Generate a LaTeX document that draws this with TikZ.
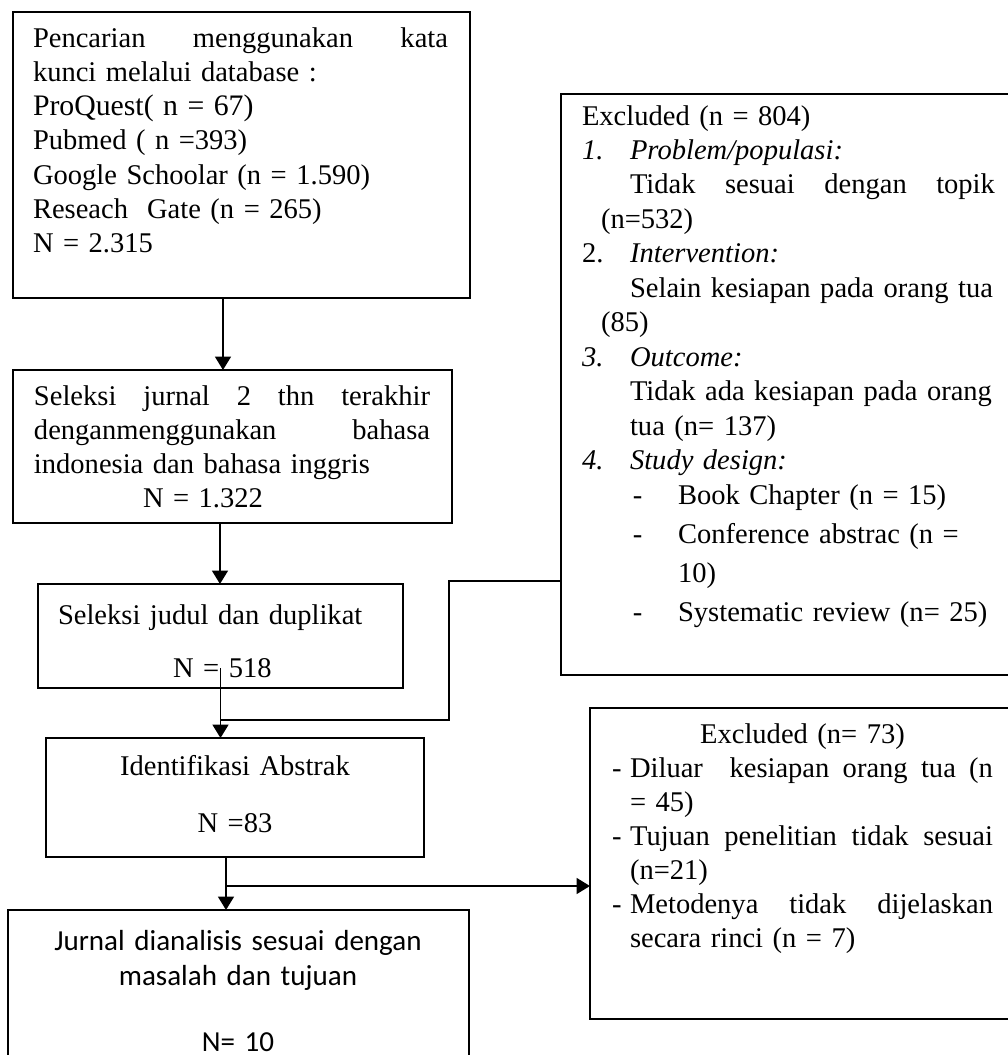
\documentclass[tikz,border=0pt]{standalone}
\usepackage{fontspec}
\setmainfont{Liberation Serif}
\newfontfamily\calibrifont{Carlito}
\usepackage{tikz}
\usetikzlibrary{arrows.meta,calc}
\tikzset{
    flow box/.style={
        rectangle,
        draw=black,
        line width=0.8pt,
        fill=none,
        inner sep=0pt,
        outer sep=0pt,
        anchor=north west,
    },
    flow text/.style={
        inner sep=0pt,
        outer sep=0pt,
        align=left,
        anchor=base west,
        font={\fontsize{11.7}{14}\selectfont},
    },
    flow line/.style={line width=0.8pt},
    flow arrow/.style={line width=0.8pt, -{Triangle[length=5.5pt,width=6.5pt]}},
}

\begin{document}
\begin{tikzpicture}[x=0.41pt,y=-0.41pt]
    % page frame (1 unit = 1 pixel of the scan)
    \path[use as bounding box] (0,0) rectangle (1008,1055);
    \clip (0,0) rectangle (1008,1055);

    % boxes on the left
    \node[flow box, minimum width=187.37pt, minimum height=117.26pt] (search) at (13,12) {};
    \node[flow box, minimum width=179.99pt, minimum height=62.73pt] (lang) at (13,370) {};
    \node[flow box, minimum width=149.65pt, minimum height=42.64pt] (title) at (38,584) {};
    \node[flow box, minimum width=154.98pt, minimum height=48.79pt] (abstract) at (46,738) {};
    \node[flow box, minimum width=189.01pt, minimum height=69.70pt] (final) at (8,910) {};

    % boxes on the right
    \node[flow box, minimum width=186.14pt, minimum height=238.21pt] (excl1) at (561,94) {};
    \node[flow box, minimum width=174.25pt, minimum height=127.51pt] (excl2) at (590,708) {};

    % texts
    \node[flow text, text width=195pt, font={\fontsize{11.7}{14.06}\selectfont}] (search-txt) at (33,47) {%
        \makebox[170.15pt][l]{Pencarian\hfill menggunakan\hfill kata}\\
        kunci melalui database :\\
        {\fontsize{12.2}{14.06}\selectfont ProQuest( n = 67)}\\
        Pubmed ( n =393)\\
        Google Schoolar (n = 1.590)\\
        Reseach\ \ Gate (n = 265)\\
        N = 2.315};

    \node[flow text, text width=185pt] (lang-txt) at (34,405) {%
        \makebox[162.36pt][l]{Seleksi\hfill jurnal\hfill 2\hfill thn\hfill terakhir}\\
        \makebox[162.36pt][l]{denganmenggunakan\hfill bahasa}\\
        indonesia dan bahasa inggris\\
        \hspace*{44.7pt}N = 1.322};

    \node[flow text, text width=160pt] (title-txt) at (58,624) {%
        Seleksi judul dan duplikat\\[7.8pt]
        \hspace*{47.2pt}N = 518};

    \node[flow text, text width=123pt, align=center, anchor=base] (abstract-txt) at (235,775) {%
        Identifikasi Abstrak\\[9.4pt]
        N =83};

    \node[flow text, text width=172.2pt, align=center, anchor=base,
          font={\calibrifont\fontsize{11.9}{14.6}\selectfont}] (final-txt) at (238,950) {%
        Jurnal dianalisis sesuai dengan\\
        masalah dan tujuan\\[12.3pt]
        N= 10};

    \node[flow text, text width=200pt, font={\fontsize{11.7}{14.14}\selectfont}] (excl1-txt) at (582,125) {%
        Excluded (n = 804)\\
        \makebox[19.7pt][l]{\textit{1.}}\textit{Problem/populasi:}\\
        \hspace*{19.7pt}\makebox[149.6pt][l]{Tidak\hfill sesuai\hfill dengan\hfill topik}\\
        \hspace*{7.8pt}(n=532)\\
        \makebox[19.7pt][l]{2.}\textit{Intervention:}\\
        \hspace*{19.7pt}Selain kesiapan pada orang tua\\
        \hspace*{7.8pt}(85)\\
        \makebox[19.7pt][l]{\textit{3.}}\textit{Outcome:}\\
        \hspace*{19.7pt}Tidak ada kesiapan pada orang\\
        \hspace*{19.7pt}tua (n= 137)\\
        \makebox[19.7pt][l]{\textit{4.}}\textit{Study design:}\\
        \hspace*{20.9pt}\makebox[18.5pt][l]{-}Book Chapter (n = 15)\\[1.9pt]
        \hspace*{20.9pt}\makebox[18.5pt][l]{-}Conference abstrac (n =\\[1.9pt]
        \hspace*{39.4pt}10)\\[1.9pt]
        \hspace*{20.9pt}\makebox[18.5pt][l]{-}Systematic review (n= 25)};

    \node[flow text, text width=180pt] (excl2-txt) at (612,743) {%
        \makebox[156.21pt][c]{Excluded (n= 73)}\\
        \makebox[7.4pt][l]{-}\makebox[148.8pt][l]{Diluar\hfill\hfill kesiapan\hfill orang\hfill tua\hfill (n}\\
        \hspace*{7.4pt}= 45)\\
        \makebox[7.4pt][l]{-}\makebox[148.8pt][l]{Tujuan\hfill penelitian\hfill tidak\hfill sesuai}\\
        \hspace*{7.4pt}(n=21)\\
        \makebox[7.4pt][l]{-}\makebox[148.8pt][l]{Metodenya\hfill tidak\hfill dijelaskan}\\
        \hspace*{7.4pt}secara rinci (n = 7)};

    % connectors
    \coordinate (join) at ($(title.south)+(0,32)$);
    \coordinate (split) at ($(abstract.south)+(-9,29)$);

    \draw[flow arrow] ([xshift=-7.59pt]search.south) -- ([xshift=-7.59pt]search.south |- lang.north);
    \draw[flow arrow] ([xshift=-5.13pt]lang.south) -- ([xshift=-5.13pt]lang.south |- title.north);
    \draw[flow arrow] ([yshift=8.2pt]title.south) -- (title.south |- abstract.north);
    \draw[flow line] ([yshift=38.54pt]excl1.south west) -- ++(-112,0) |- (join);
    \draw[flow arrow] ([xshift=-3.69pt]abstract.south) -- ([xshift=-3.69pt]abstract.south |- final.north);
    \draw[flow arrow] (split) -- (split -| excl2.west);
\end{tikzpicture}
\end{document}
